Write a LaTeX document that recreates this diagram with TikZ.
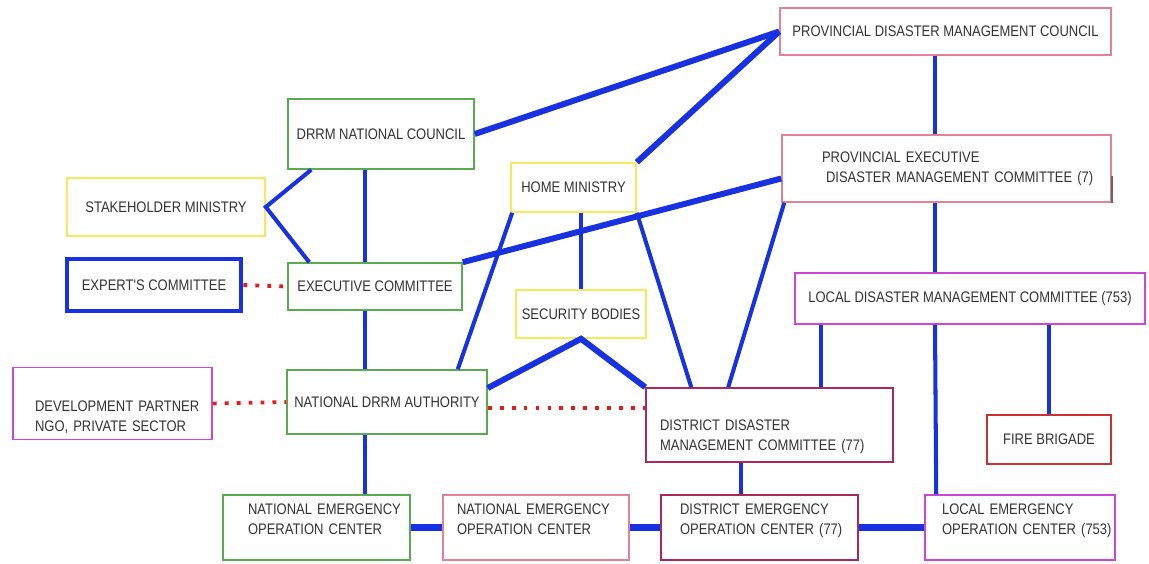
\documentclass[tikz,border=0pt]{standalone}
\usepackage{fontspec}
\newfontfamily\caixafont{Liberation Sans}[FakeStretch=0.85]
\usetikzlibrary{calc}
\definecolor{verdeBorda}{RGB}{90,170,80}
\definecolor{amareloBorda}{RGB}{245,235,90}
\definecolor{rosaBorda}{RGB}{225,130,150}
\definecolor{magentaBorda}{RGB}{205,70,215}
\definecolor{vinhoBorda}{RGB}{170,40,90}
\definecolor{vermelhoBorda}{RGB}{200,50,50}
\definecolor{azulLinha}{RGB}{25,50,225}
\definecolor{vermelhoPonto}{RGB}{225,30,30}
\newcommand{\recuo}[1]{\hspace*{#1}}
\newcommand{\desce}[1]{\rule{0pt}{#1}}
\newcommand{\sobe}[1]{\rule[-#1]{0pt}{0pt}}
\tikzset{
  caixa/.style={rectangle, draw, line width=0.9pt, text=black!80,
                font=\caixafont\fontsize{8.7}{11.5}\selectfont},
  verde/.style={caixa, draw=verdeBorda},
  amarelo/.style={caixa, draw=amareloBorda},
  rosa/.style={caixa, draw=rosaBorda},
  magenta/.style={caixa, draw=magentaBorda},
  vinho/.style={caixa, draw=vinhoBorda},
  esquerda/.style={align=left, inner xsep=0pt, text width=#1},
  liga/.style={azulLinha, line width=2.3pt},
  ligaforte/.style={azulLinha, line width=3.4pt},
  ligabase/.style={azulLinha, line width=4.5pt},
  pontos/.style={vermelhoPonto, line width=2.2pt, dash pattern=on 2.2pt off 4.6pt},
}

\begin{document}
\begin{tikzpicture}[x=0.02cm, y=-0.02cm]
  \useasboundingbox (0,0) rectangle (1149,564);
  % linha de cima
  \node[rosa, minimum width=6.62cm, minimum height=0.94cm] (pdmc) at (945.5,31.5) {PROVINCIAL DISASTER MANAGEMENT COUNCIL};
  \node[verde, minimum width=3.72cm, minimum height=1.4cm] (nc) at (381,134) {DRRM NATIONAL COUNCIL};
  \node[amarelo, minimum width=2.5cm, minimum height=0.98cm] (hm) at (573.5,187.5) {HOME MINISTRY};
  \node[rosa, esquerda=6.58cm, minimum height=1.34cm] (pedmc) at (946.5,168.5) {\recuo{0.8cm}PROVINCIAL~EXECUTIVE\\\recuo{0.88cm}DISASTER~MANAGEMENT~COMMITTEE~(7)};
  \node[amarelo, minimum width=3.96cm, minimum height=1.16cm] (sm) at (166,207) {STAKEHOLDER MINISTRY};
  % linha do meio
  \node[caixa, draw=azulLinha, line width=2.8pt, minimum width=3.48cm, minimum height=1.04cm] (expert) at (154,285) {EXPERT'S COMMITTEE};
  \node[verde, minimum width=3.48cm, minimum height=0.94cm] (exec) at (375,286.5) {EXECUTIVE COMMITTEE};
  \node[amarelo, minimum width=2.48cm, minimum height=0.96cm] (sb) at (581,314) {SECURITY BODIES};
  \node[magenta, minimum width=7cm, minimum height=1.02cm] (ldmc) at (970,298.5) {LOCAL DISASTER MANAGEMENT COMMITTEE (753)};
  \node[magenta, esquerda=3.98cm, minimum height=1.34cm] (dev) at (112.5,403.5) {\desce{0.76cm}\recuo{0.44cm}DEVELOPMENT~PARTNER\\\recuo{0.44cm}NGO,~PRIVATE~SECTOR};
  \node[verde, minimum width=4cm, minimum height=1.28cm] (ndrrma) at (387,402) {NATIONAL DRRM AUTHORITY};
  \node[vinho, esquerda=4.94cm, minimum height=1.48cm] (ddmc) at (769.5,425) {\desce{0.68cm}\recuo{0.28cm}DISTRICT~DISASTER\\\recuo{0.28cm}MANAGEMENT~COMMITTEE~(77)};
  \node[caixa, draw=vermelhoBorda, minimum width=2.48cm, minimum height=0.98cm] (fire) at (1049,439.5) {FIRE BRIGADE};
  % centros de operacao
  \node[verde, esquerda=3.74cm, minimum height=1.3cm] (neocA) at (316.5,527.5) {\recuo{0.5cm}NATIONAL~EMERGENCY\\\recuo{0.5cm}OPERATION~CENTER\sobe{0.34cm}};
  \node[rosa, esquerda=3.72cm, minimum height=1.3cm] (neocB) at (536,527.5) {\recuo{0.28cm}NATIONAL~EMERGENCY\\\recuo{0.28cm}OPERATION~CENTER\sobe{0.34cm}};
  \node[vinho, esquerda=3.94cm, minimum height=1.3cm] (deoc) at (759.5,527.5) {\recuo{0.38cm}DISTRICT~EMERGENCY\\\recuo{0.38cm}OPERATION~CENTER~(77)\sobe{0.34cm}};
  \node[magenta, esquerda=3.8cm, minimum height=1.3cm] (leoc) at (1020,527.5) {\recuo{0.34cm}LOCAL~EMERGENCY\\\recuo{0.34cm}OPERATION~CENTER~(753)\sobe{0.34cm}};
  \draw[black!60, line width=1pt] ($(pedmc.east)+(0,8)$) -- (pedmc.south east);

  \coordinate (eixoNac) at (365,0);
  \coordinate (eixoProv) at (935,0);
  \coordinate (eixoDist) at ($(deoc.north)+(-18.5,0)$);
  \coordinate (pontoA) at ($(ndrrma.east)+(0,6)$);
  % ligacoes
  \draw[ligaforte] (nc.east) -- (pdmc.west);
  \draw[ligaforte] (hm.north east) -- (pdmc.west);
  \draw[liga] (pdmc.south -| eixoProv) -- (pedmc.north -| eixoProv);
  \draw[liga] (pedmc.south -| eixoProv) -- (ldmc.north -| eixoProv);
  \draw[liga] ($(nc.south west)+(24,0)$) -- (sm.east) -- ($(exec.north west)+(22,0)$);
  \draw[liga] (nc.south -| eixoNac) -- (exec.north -| eixoNac);
  \draw[ligaforte] (exec.north east) -- ($(pedmc.west)+(0,10)$);
  \draw[liga] (exec.south -| eixoNac) -- (ndrrma.north -| eixoNac);
  \draw[liga] ($(ndrrma.north east)+(-30,0)$) -- ($(hm.south west)+(2,0)$);
  \draw[liga] (hm.south -| sb.north) -- (sb.north);
  \draw[liga] (hm.south east) -- ($(ddmc.north west)+(46,0)$);
  \draw[ligaforte] ($(ndrrma.east)+(0,-14)$) -- (sb.south) -- (ddmc.north west);
  \draw[liga] ($(pedmc.south west)+(3,0)$) -- ($(ddmc.north west)+(83,0)$);
  \draw[liga] ($(ddmc.north west)+(176,0)$) coordinate (ddmcTopo) -- (ddmcTopo |- ldmc.south);
  \draw[liga] (ldmc.south -| eixoProv) -- ($(leoc.north west)+(12,0)$);
  \draw[liga] (fire.north |- ldmc.south) -- (fire.north);
  \draw[liga] (ndrrma.south -| eixoNac) -- (neocA.north -| eixoNac);
  \draw[liga] (ddmc.south -| eixoDist) -- (eixoDist);
  \draw[ligabase] (neocA.east) -- (neocB.west);
  \draw[ligabase] (neocB.east) -- (deoc.west);
  \draw[ligabase] (deoc.east) -- (leoc.west);
  % pontilhados
  \draw[pontos] (expert.east) -- (exec.west);
  \draw[pontos] (dev.east) -- (ndrrma.west);
  \draw[pontos] (pontoA) -- (pontoA -| ddmc.west);
\end{tikzpicture}
\end{document}
